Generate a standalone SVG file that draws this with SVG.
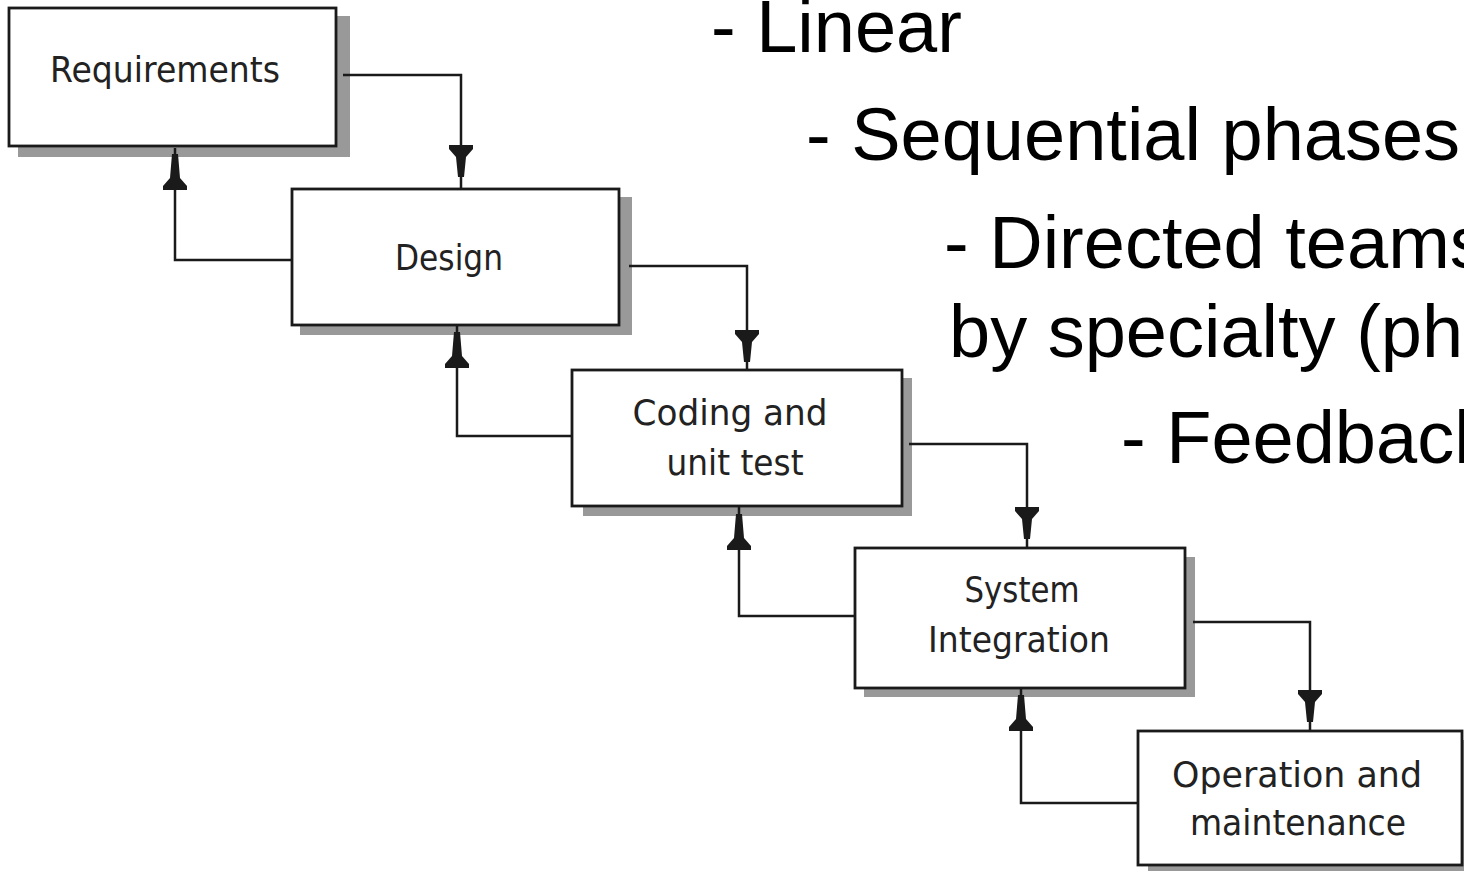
<svg xmlns="http://www.w3.org/2000/svg" xmlns:xlink="http://www.w3.org/1999/xlink" width="1464" height="871" viewBox="0 0 1464 871">
<style>
.box{fill:#fff;stroke:#1a1a1a;stroke-width:2.8}
.shadow{fill:#999}
.lbl{font-family:"DejaVu Sans",Verdana,sans-serif;font-size:35px;fill:#222;text-anchor:middle}
.big{font-family:"Liberation Sans",Arial,sans-serif;font-size:74px;fill:#000}
.conn{fill:none;stroke:#1a1a1a;stroke-width:2.5}
.ah{fill:#1a1a1a}
</style>
<defs>
<path id="down" d="M-12,0 H12 V4 L5,12 L3,32 H-3 L-5,12 L-12,4 Z"/>
<path id="up" d="M-12,0 H12 V-4 L5,-12 L3,-36 H-3 L-5,-12 L-12,-4 Z"/>
</defs>
<rect width="1464" height="871" fill="#fff"/>

<g id="bullets">
<text class="big" x="711" y="52">- Linear</text>
<text class="big" x="806" y="160">- Sequential phases</text>
<text class="big" x="944" y="268">- Directed teams</text>
<text class="big" x="949" y="357">by specialty (ph</text>
<text class="big" x="1121" y="463">- Feedback</text>
</g>

<g id="requirements">
<rect class="shadow" x="18" y="16" width="332" height="141"/>
<rect class="box" x="9" y="8" width="327" height="138"/>
<text class="lbl" x="165" y="82" textLength="230" lengthAdjust="spacingAndGlyphs">Requirements</text>
</g>

<g id="design">
<rect class="shadow" x="300" y="197" width="332" height="138"/>
<rect class="box" x="292" y="189" width="327" height="136"/>
<text class="lbl" x="449" y="270" textLength="108" lengthAdjust="spacingAndGlyphs">Design</text>
</g>

<g id="coding">
<rect class="shadow" x="583" y="378" width="329" height="138"/>
<rect class="box" x="572" y="370" width="330" height="136"/>
<text class="lbl" x="730" y="425" textLength="195" lengthAdjust="spacingAndGlyphs">Coding and</text>
<text class="lbl" x="735" y="475" textLength="137" lengthAdjust="spacingAndGlyphs">unit test</text>
</g>

<g id="system">
<rect class="shadow" x="864" y="557" width="331" height="140"/>
<rect class="box" x="855" y="548" width="330" height="140"/>
<text class="lbl" x="1022" y="602" textLength="115" lengthAdjust="spacingAndGlyphs">System</text>
<text class="lbl" x="1019" y="652" textLength="182" lengthAdjust="spacingAndGlyphs">Integration</text>
</g>

<g id="operation">
<rect class="shadow" x="1148" y="740" width="330" height="135"/>
<rect class="box" x="1138" y="731" width="324" height="134"/>
<text class="lbl" x="1297" y="787" textLength="250" lengthAdjust="spacingAndGlyphs">Operation and</text>
<text class="lbl" x="1298" y="835" textLength="216" lengthAdjust="spacingAndGlyphs">maintenance</text>
</g>

<g id="connectors">
<path class="conn" d="M343,75 H461 V189"/>
<use href="#down" class="ah" x="461" y="145"/>
<path class="conn" d="M292,260 H175 V148"/>
<use href="#up" class="ah" x="175" y="190"/>

<path class="conn" d="M629,266 H747 V370"/>
<use href="#down" class="ah" x="747" y="330"/>
<path class="conn" d="M572,436 H457 V326"/>
<use href="#up" class="ah" x="457" y="368"/>

<path class="conn" d="M909,444 H1027 V548"/>
<use href="#down" class="ah" x="1027" y="507"/>
<path class="conn" d="M855,616 H739 V507"/>
<use href="#up" class="ah" x="739" y="550"/>

<path class="conn" d="M1193,622 H1310 V730"/>
<use href="#down" class="ah" x="1310" y="690"/>
<path class="conn" d="M1138,803 H1021 V689"/>
<use href="#up" class="ah" x="1021" y="731"/>
</g>
</svg>
